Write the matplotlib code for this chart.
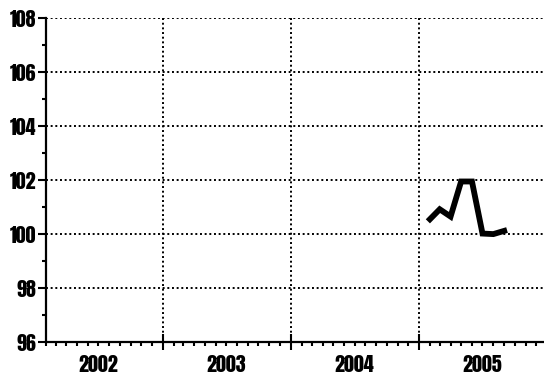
import datetime as dt

import matplotlib
matplotlib.use("Agg")
import matplotlib.dates as mdates
import matplotlib.pyplot as plt
from matplotlib.ticker import MultipleLocator
from matplotlib.transforms import blended_transform_factory

# monthly index values (Feb-Sep 2005)
months = [dt.date(2005, m, 1) for m in range(2, 10)]
values = [100.55, 100.92, 100.65, 101.95, 101.95, 100.02, 100.0, 100.12]

year_labels = ["2002", "2003", "2004", "2005"]
y_ticks = [96, 98, 100, 102, 104, 106, 108]

FONT = ["Anton", "DejaVu Sans"]
FSIZE = 14.5

fig = plt.figure(figsize=(5.44, 3.76), dpi=100)
ax = fig.add_axes([0.084, 0.0904, 0.9215, 0.861])

ax.plot(months, values, color="black", lw=4.2, solid_joinstyle="miter", zorder=3)

ax.set_xlim(dt.date(2002, 2, 1), dt.date(2006, 1, 1))
ax.set_ylim(96, 108)

ax.xaxis.set_major_locator(mdates.YearLocator())
ax.xaxis.set_minor_locator(mdates.MonthLocator())
ax.xaxis.set_major_formatter(plt.NullFormatter())
ax.set_yticks(y_ticks)
ax.yaxis.set_minor_locator(MultipleLocator(1))
ax.set_yticklabels([str(v) for v in y_ticks], family=FONT, fontsize=FSIZE)

ax.tick_params(axis="y", which="major", direction="out", length=6, width=1.5, pad=1)
ax.tick_params(axis="y", which="minor", direction="out", length=3, width=1.5)
ax.tick_params(axis="x", which="major", direction="inout", length=11, width=1.5)
ax.tick_params(axis="x", which="minor", direction="out", length=3, width=1.5)

for side in ("top", "right"):
    ax.spines[side].set_visible(False)
for side in ("left", "bottom"):
    ax.spines[side].set_linewidth(1.6)

ax.grid(True, which="major", color="black", lw=1.4, linestyle=(0, (1, 1.4)))

trans = blended_transform_factory(ax.transData, ax.transAxes)
for lab in year_labels:
    mid = mdates.date2num(dt.date(int(lab), 7, 1))
    ax.text(mid, -0.04, lab, transform=trans, ha="center", va="top",
            family=FONT, fontsize=FSIZE)

fig.savefig("out.png", dpi=100)
